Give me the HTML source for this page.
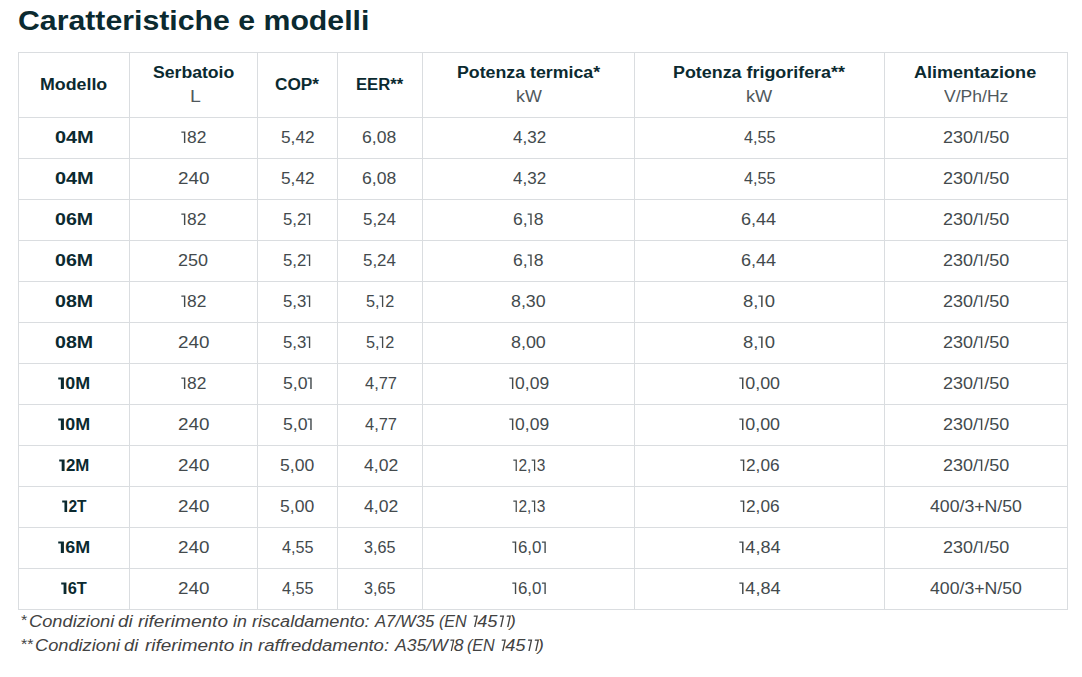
<!DOCTYPE html><html><head><meta charset="utf-8"><style>
html,body{margin:0;padding:0;background:#fff;}body{width:1082px;height:677px;position:relative;overflow:hidden;font-family:"Liberation Sans",sans-serif;}
.t{position:absolute;white-space:pre;line-height:0;height:0;transform-origin:0 0;}
.l{position:absolute;background:#dadde0;}
.d1{display:inline-block;vertical-align:baseline;overflow:visible;fill:currentColor;margin-top:-12px}
.ast{font-size:14px;}
.body{font-size:16px;}
.head{font-size:16px;font-weight:bold;}
.sub{font-size:16px;}
.title{font-size:28px;font-weight:bold;}
.foot{font-size:16px;font-style:italic;}
</style></head><body>
<div class="l" style="left:18px;top:52px;width:1px;height:558px"></div>
<div class="l" style="left:129px;top:52px;width:1px;height:558px"></div>
<div class="l" style="left:257px;top:52px;width:1px;height:558px"></div>
<div class="l" style="left:337px;top:52px;width:1px;height:558px"></div>
<div class="l" style="left:422px;top:52px;width:1px;height:558px"></div>
<div class="l" style="left:634px;top:52px;width:1px;height:558px"></div>
<div class="l" style="left:884px;top:52px;width:1px;height:558px"></div>
<div class="l" style="left:1067px;top:52px;width:1px;height:558px"></div>
<div class="l" style="left:18px;top:52px;width:1050px;height:1px"></div>
<div class="l" style="left:18px;top:117px;width:1050px;height:1px"></div>
<div class="l" style="left:18px;top:158px;width:1050px;height:1px"></div>
<div class="l" style="left:18px;top:199px;width:1050px;height:1px"></div>
<div class="l" style="left:18px;top:240px;width:1050px;height:1px"></div>
<div class="l" style="left:18px;top:281px;width:1050px;height:1px"></div>
<div class="l" style="left:18px;top:322px;width:1050px;height:1px"></div>
<div class="l" style="left:18px;top:363px;width:1050px;height:1px"></div>
<div class="l" style="left:18px;top:404px;width:1050px;height:1px"></div>
<div class="l" style="left:18px;top:445px;width:1050px;height:1px"></div>
<div class="l" style="left:18px;top:486px;width:1050px;height:1px"></div>
<div class="l" style="left:18px;top:527px;width:1050px;height:1px"></div>
<div class="l" style="left:18px;top:568px;width:1050px;height:1px"></div>
<div class="l" style="left:18px;top:609px;width:1050px;height:1px"></div>
<span class="t title" style="left:18.42px;top:21.29px;color:#0b2a30;transform:scaleX(1.0804)">Caratteristiche e modelli</span>
<span class="t head" style="left:40.39px;top:85.45px;color:#0b2a30;transform:scaleX(1.1119)">Modello</span>
<span class="t head" style="left:153.00px;top:73.25px;color:#0b2a30;transform:scaleX(1.1014)">Serbatoio</span>
<span class="t sub" style="left:189.54px;top:97.25px;color:#50585c;transform:scaleX(1.2143)">L</span>
<span class="t head" style="left:275.32px;top:85.45px;color:#0b2a30;transform:scaleX(1.0750)">COP*</span>
<span class="t head" style="left:356.26px;top:85.45px;color:#0b2a30;transform:scaleX(1.0409)">EER**</span>
<span class="t head" style="left:456.99px;top:73.25px;color:#0b2a30;transform:scaleX(1.1094)">Potenza termica*</span>
<span class="t sub" style="left:515.68px;top:97.25px;color:#50585c;transform:scaleX(1.1182)">kW</span>
<span class="t head" style="left:672.98px;top:73.25px;color:#0b2a30;transform:scaleX(1.1176)">Potenza frigorifera**</span>
<span class="t sub" style="left:746.26px;top:97.25px;color:#50585c;transform:scaleX(1.1364)">kW</span>
<span class="t head" style="left:914.37px;top:73.25px;color:#0b2a30;transform:scaleX(1.1262)">Alimentazione</span>
<span class="t sub" style="left:944.10px;top:97.25px;color:#50585c;transform:scaleX(1.0966)">V/Ph/Hz</span>
<span class="t head" style="left:54.76px;top:138.45px;color:#0b2a30;transform:scaleX(1.2414)">04M</span>
<span class="t body" style="left:181.00px;top:138.45px;color:#434a4d;transform:scaleX(1.0870)"><svg class="d1" width="5.6" height="12" viewBox="0 0 5.6 12"><path d="M0.3 0.5H4V12H2.7V1.8H0.3Z"/></svg>82</span>
<span class="t body" style="left:280.77px;top:138.45px;color:#434a4d;transform:scaleX(1.0793)">5,42</span>
<span class="t body" style="left:362.45px;top:138.45px;color:#434a4d;transform:scaleX(1.0967)">6,08</span>
<span class="t body" style="left:512.55px;top:138.45px;color:#434a4d;transform:scaleX(1.0633)">4,32</span>
<span class="t body" style="left:743.80px;top:138.45px;color:#434a4d;transform:scaleX(1.0129)">4,55</span>
<span class="t body" style="left:942.88px;top:138.45px;color:#434a4d;transform:scaleX(1.1228)">230/<svg class="d1" width="5.6" height="12" viewBox="0 0 5.6 12"><path d="M0.3 0.5H4V12H2.7V1.8H0.3Z"/></svg>/50</span>
<span class="t head" style="left:54.76px;top:179.45px;color:#0b2a30;transform:scaleX(1.2414)">04M</span>
<span class="t body" style="left:177.62px;top:179.45px;color:#434a4d;transform:scaleX(1.1760)">240</span>
<span class="t body" style="left:280.77px;top:179.45px;color:#434a4d;transform:scaleX(1.0793)">5,42</span>
<span class="t body" style="left:362.45px;top:179.45px;color:#434a4d;transform:scaleX(1.0967)">6,08</span>
<span class="t body" style="left:512.55px;top:179.45px;color:#434a4d;transform:scaleX(1.0633)">4,32</span>
<span class="t body" style="left:743.80px;top:179.45px;color:#434a4d;transform:scaleX(1.0129)">4,55</span>
<span class="t body" style="left:942.88px;top:179.45px;color:#434a4d;transform:scaleX(1.1228)">230/<svg class="d1" width="5.6" height="12" viewBox="0 0 5.6 12"><path d="M0.3 0.5H4V12H2.7V1.8H0.3Z"/></svg>/50</span>
<span class="t head" style="left:55.03px;top:220.45px;color:#0b2a30;transform:scaleX(1.2241)">06M</span>
<span class="t body" style="left:181.00px;top:220.45px;color:#434a4d;transform:scaleX(1.0870)"><svg class="d1" width="5.6" height="12" viewBox="0 0 5.6 12"><path d="M0.3 0.5H4V12H2.7V1.8H0.3Z"/></svg>82</span>
<span class="t body" style="left:283.35px;top:220.45px;color:#434a4d;transform:scaleX(1.0480)">5,2<svg class="d1" width="5.6" height="12" viewBox="0 0 5.6 12"><path d="M0.3 0.5H4V12H2.7V1.8H0.3Z"/></svg></span>
<span class="t body" style="left:363.09px;top:220.45px;color:#434a4d;transform:scaleX(1.0567)">5,24</span>
<span class="t body" style="left:513.10px;top:220.45px;color:#434a4d;transform:scaleX(1.1000)">6,<svg class="d1" width="5.6" height="12" viewBox="0 0 5.6 12"><path d="M0.3 0.5H4V12H2.7V1.8H0.3Z"/></svg>8</span>
<span class="t body" style="left:741.47px;top:220.45px;color:#434a4d;transform:scaleX(1.1267)">6,44</span>
<span class="t body" style="left:942.88px;top:220.45px;color:#434a4d;transform:scaleX(1.1228)">230/<svg class="d1" width="5.6" height="12" viewBox="0 0 5.6 12"><path d="M0.3 0.5H4V12H2.7V1.8H0.3Z"/></svg>/50</span>
<span class="t head" style="left:55.03px;top:261.45px;color:#0b2a30;transform:scaleX(1.2241)">06M</span>
<span class="t body" style="left:178.33px;top:261.45px;color:#434a4d;transform:scaleX(1.1240)">250</span>
<span class="t body" style="left:283.35px;top:261.45px;color:#434a4d;transform:scaleX(1.0480)">5,2<svg class="d1" width="5.6" height="12" viewBox="0 0 5.6 12"><path d="M0.3 0.5H4V12H2.7V1.8H0.3Z"/></svg></span>
<span class="t body" style="left:363.09px;top:261.45px;color:#434a4d;transform:scaleX(1.0567)">5,24</span>
<span class="t body" style="left:513.10px;top:261.45px;color:#434a4d;transform:scaleX(1.1000)">6,<svg class="d1" width="5.6" height="12" viewBox="0 0 5.6 12"><path d="M0.3 0.5H4V12H2.7V1.8H0.3Z"/></svg>8</span>
<span class="t body" style="left:741.47px;top:261.45px;color:#434a4d;transform:scaleX(1.1267)">6,44</span>
<span class="t body" style="left:942.88px;top:261.45px;color:#434a4d;transform:scaleX(1.1228)">230/<svg class="d1" width="5.6" height="12" viewBox="0 0 5.6 12"><path d="M0.3 0.5H4V12H2.7V1.8H0.3Z"/></svg>/50</span>
<span class="t head" style="left:55.03px;top:302.45px;color:#0b2a30;transform:scaleX(1.2241)">08M</span>
<span class="t body" style="left:181.00px;top:302.45px;color:#434a4d;transform:scaleX(1.0870)"><svg class="d1" width="5.6" height="12" viewBox="0 0 5.6 12"><path d="M0.3 0.5H4V12H2.7V1.8H0.3Z"/></svg>82</span>
<span class="t body" style="left:283.35px;top:302.45px;color:#434a4d;transform:scaleX(1.0480)">5,3<svg class="d1" width="5.6" height="12" viewBox="0 0 5.6 12"><path d="M0.3 0.5H4V12H2.7V1.8H0.3Z"/></svg></span>
<span class="t body" style="left:365.78px;top:302.45px;color:#434a4d;transform:scaleX(1.0154)">5,<svg class="d1" width="5.6" height="12" viewBox="0 0 5.6 12"><path d="M0.3 0.5H4V12H2.7V1.8H0.3Z"/></svg>2</span>
<span class="t body" style="left:510.74px;top:302.45px;color:#434a4d;transform:scaleX(1.1100)">8,30</span>
<span class="t body" style="left:743.35px;top:302.45px;color:#434a4d;transform:scaleX(1.1538)">8,<svg class="d1" width="5.6" height="12" viewBox="0 0 5.6 12"><path d="M0.3 0.5H4V12H2.7V1.8H0.3Z"/></svg>0</span>
<span class="t body" style="left:942.88px;top:302.45px;color:#434a4d;transform:scaleX(1.1228)">230/<svg class="d1" width="5.6" height="12" viewBox="0 0 5.6 12"><path d="M0.3 0.5H4V12H2.7V1.8H0.3Z"/></svg>/50</span>
<span class="t head" style="left:55.03px;top:343.45px;color:#0b2a30;transform:scaleX(1.2241)">08M</span>
<span class="t body" style="left:177.62px;top:343.45px;color:#434a4d;transform:scaleX(1.1760)">240</span>
<span class="t body" style="left:283.35px;top:343.45px;color:#434a4d;transform:scaleX(1.0480)">5,3<svg class="d1" width="5.6" height="12" viewBox="0 0 5.6 12"><path d="M0.3 0.5H4V12H2.7V1.8H0.3Z"/></svg></span>
<span class="t body" style="left:365.78px;top:343.45px;color:#434a4d;transform:scaleX(1.0154)">5,<svg class="d1" width="5.6" height="12" viewBox="0 0 5.6 12"><path d="M0.3 0.5H4V12H2.7V1.8H0.3Z"/></svg>2</span>
<span class="t body" style="left:510.63px;top:343.45px;color:#434a4d;transform:scaleX(1.1167)">8,00</span>
<span class="t body" style="left:743.35px;top:343.45px;color:#434a4d;transform:scaleX(1.1538)">8,<svg class="d1" width="5.6" height="12" viewBox="0 0 5.6 12"><path d="M0.3 0.5H4V12H2.7V1.8H0.3Z"/></svg>0</span>
<span class="t body" style="left:942.88px;top:343.45px;color:#434a4d;transform:scaleX(1.1228)">230/<svg class="d1" width="5.6" height="12" viewBox="0 0 5.6 12"><path d="M0.3 0.5H4V12H2.7V1.8H0.3Z"/></svg>/50</span>
<span class="t head" style="left:58.35px;top:384.45px;color:#0b2a30;transform:scaleX(1.1179)"><svg class="d1" width="6.6" height="12" viewBox="0 0 6.6 12"><path d="M0.2 0.4H5.3V12H2.55V2.6H0.2Z"/></svg>0M</span>
<span class="t body" style="left:181.00px;top:384.45px;color:#434a4d;transform:scaleX(1.0870)"><svg class="d1" width="5.6" height="12" viewBox="0 0 5.6 12"><path d="M0.3 0.5H4V12H2.7V1.8H0.3Z"/></svg>82</span>
<span class="t body" style="left:282.60px;top:384.45px;color:#434a4d;transform:scaleX(1.1040)">5,0<svg class="d1" width="5.6" height="12" viewBox="0 0 5.6 12"><path d="M0.3 0.5H4V12H2.7V1.8H0.3Z"/></svg></span>
<span class="t body" style="left:364.60px;top:384.45px;color:#434a4d;transform:scaleX(1.0267)">4,77</span>
<span class="t body" style="left:508.85px;top:384.45px;color:#434a4d;transform:scaleX(1.0917)"><svg class="d1" width="5.6" height="12" viewBox="0 0 5.6 12"><path d="M0.3 0.5H4V12H2.7V1.8H0.3Z"/></svg>0,09</span>
<span class="t body" style="left:739.40px;top:384.45px;color:#434a4d;transform:scaleX(1.1167)"><svg class="d1" width="5.6" height="12" viewBox="0 0 5.6 12"><path d="M0.3 0.5H4V12H2.7V1.8H0.3Z"/></svg>0,00</span>
<span class="t body" style="left:942.88px;top:384.45px;color:#434a4d;transform:scaleX(1.1228)">230/<svg class="d1" width="5.6" height="12" viewBox="0 0 5.6 12"><path d="M0.3 0.5H4V12H2.7V1.8H0.3Z"/></svg>/50</span>
<span class="t head" style="left:58.35px;top:425.45px;color:#0b2a30;transform:scaleX(1.1179)"><svg class="d1" width="6.6" height="12" viewBox="0 0 6.6 12"><path d="M0.2 0.4H5.3V12H2.55V2.6H0.2Z"/></svg>0M</span>
<span class="t body" style="left:177.62px;top:425.45px;color:#434a4d;transform:scaleX(1.1760)">240</span>
<span class="t body" style="left:282.60px;top:425.45px;color:#434a4d;transform:scaleX(1.1040)">5,0<svg class="d1" width="5.6" height="12" viewBox="0 0 5.6 12"><path d="M0.3 0.5H4V12H2.7V1.8H0.3Z"/></svg></span>
<span class="t body" style="left:364.60px;top:425.45px;color:#434a4d;transform:scaleX(1.0267)">4,77</span>
<span class="t body" style="left:508.85px;top:425.45px;color:#434a4d;transform:scaleX(1.0917)"><svg class="d1" width="5.6" height="12" viewBox="0 0 5.6 12"><path d="M0.3 0.5H4V12H2.7V1.8H0.3Z"/></svg>0,09</span>
<span class="t body" style="left:739.40px;top:425.45px;color:#434a4d;transform:scaleX(1.1167)"><svg class="d1" width="5.6" height="12" viewBox="0 0 5.6 12"><path d="M0.3 0.5H4V12H2.7V1.8H0.3Z"/></svg>0,00</span>
<span class="t body" style="left:942.88px;top:425.45px;color:#434a4d;transform:scaleX(1.1228)">230/<svg class="d1" width="5.6" height="12" viewBox="0 0 5.6 12"><path d="M0.3 0.5H4V12H2.7V1.8H0.3Z"/></svg>/50</span>
<span class="t head" style="left:59.25px;top:466.45px;color:#0b2a30;transform:scaleX(1.0536)"><svg class="d1" width="6.6" height="12" viewBox="0 0 6.6 12"><path d="M0.2 0.4H5.3V12H2.55V2.6H0.2Z"/></svg>2M</span>
<span class="t body" style="left:177.62px;top:466.45px;color:#434a4d;transform:scaleX(1.1760)">240</span>
<span class="t body" style="left:279.95px;top:466.45px;color:#434a4d;transform:scaleX(1.0967)">5,00</span>
<span class="t body" style="left:363.55px;top:466.45px;color:#434a4d;transform:scaleX(1.0967)">4,02</span>
<span class="t body" style="left:512.55px;top:466.45px;color:#434a4d;transform:scaleX(0.9667)"><svg class="d1" width="5.6" height="12" viewBox="0 0 5.6 12"><path d="M0.3 0.5H4V12H2.7V1.8H0.3Z"/></svg>2,<svg class="d1" width="5.6" height="12" viewBox="0 0 5.6 12"><path d="M0.3 0.5H4V12H2.7V1.8H0.3Z"/></svg>3</span>
<span class="t body" style="left:740.10px;top:466.45px;color:#434a4d;transform:scaleX(1.0778)"><svg class="d1" width="5.6" height="12" viewBox="0 0 5.6 12"><path d="M0.3 0.5H4V12H2.7V1.8H0.3Z"/></svg>2,06</span>
<span class="t body" style="left:942.88px;top:466.45px;color:#434a4d;transform:scaleX(1.1228)">230/<svg class="d1" width="5.6" height="12" viewBox="0 0 5.6 12"><path d="M0.3 0.5H4V12H2.7V1.8H0.3Z"/></svg>/50</span>
<span class="t head" style="left:61.90px;top:507.45px;color:#0b2a30;transform:scaleX(0.9680)"><svg class="d1" width="6.6" height="12" viewBox="0 0 6.6 12"><path d="M0.2 0.4H5.3V12H2.55V2.6H0.2Z"/></svg>2T</span>
<span class="t body" style="left:177.62px;top:507.45px;color:#434a4d;transform:scaleX(1.1760)">240</span>
<span class="t body" style="left:279.95px;top:507.45px;color:#434a4d;transform:scaleX(1.0967)">5,00</span>
<span class="t body" style="left:363.55px;top:507.45px;color:#434a4d;transform:scaleX(1.0967)">4,02</span>
<span class="t body" style="left:512.55px;top:507.45px;color:#434a4d;transform:scaleX(0.9667)"><svg class="d1" width="5.6" height="12" viewBox="0 0 5.6 12"><path d="M0.3 0.5H4V12H2.7V1.8H0.3Z"/></svg>2,<svg class="d1" width="5.6" height="12" viewBox="0 0 5.6 12"><path d="M0.3 0.5H4V12H2.7V1.8H0.3Z"/></svg>3</span>
<span class="t body" style="left:740.10px;top:507.45px;color:#434a4d;transform:scaleX(1.0778)"><svg class="d1" width="5.6" height="12" viewBox="0 0 5.6 12"><path d="M0.3 0.5H4V12H2.7V1.8H0.3Z"/></svg>2,06</span>
<span class="t body" style="left:930.15px;top:507.45px;color:#434a4d;transform:scaleX(1.1048)">400/3+N/50</span>
<span class="t head" style="left:58.35px;top:548.45px;color:#0b2a30;transform:scaleX(1.1179)"><svg class="d1" width="6.6" height="12" viewBox="0 0 6.6 12"><path d="M0.2 0.4H5.3V12H2.55V2.6H0.2Z"/></svg>6M</span>
<span class="t body" style="left:177.62px;top:548.45px;color:#434a4d;transform:scaleX(1.1760)">240</span>
<span class="t body" style="left:281.80px;top:548.45px;color:#434a4d;transform:scaleX(1.0129)">4,55</span>
<span class="t body" style="left:363.84px;top:548.45px;color:#434a4d;transform:scaleX(1.0100)">3,65</span>
<span class="t body" style="left:511.60px;top:548.45px;color:#434a4d;transform:scaleX(1.0562)"><svg class="d1" width="5.6" height="12" viewBox="0 0 5.6 12"><path d="M0.3 0.5H4V12H2.7V1.8H0.3Z"/></svg>6,0<svg class="d1" width="5.6" height="12" viewBox="0 0 5.6 12"><path d="M0.3 0.5H4V12H2.7V1.8H0.3Z"/></svg></span>
<span class="t body" style="left:739.15px;top:548.45px;color:#434a4d;transform:scaleX(1.1306)"><svg class="d1" width="5.6" height="12" viewBox="0 0 5.6 12"><path d="M0.3 0.5H4V12H2.7V1.8H0.3Z"/></svg>4,84</span>
<span class="t body" style="left:942.88px;top:548.45px;color:#434a4d;transform:scaleX(1.1228)">230/<svg class="d1" width="5.6" height="12" viewBox="0 0 5.6 12"><path d="M0.3 0.5H4V12H2.7V1.8H0.3Z"/></svg>/50</span>
<span class="t head" style="left:61.20px;top:589.45px;color:#0b2a30;transform:scaleX(1.0240)"><svg class="d1" width="6.6" height="12" viewBox="0 0 6.6 12"><path d="M0.2 0.4H5.3V12H2.55V2.6H0.2Z"/></svg>6T</span>
<span class="t body" style="left:177.62px;top:589.45px;color:#434a4d;transform:scaleX(1.1760)">240</span>
<span class="t body" style="left:281.80px;top:589.45px;color:#434a4d;transform:scaleX(1.0129)">4,55</span>
<span class="t body" style="left:363.84px;top:589.45px;color:#434a4d;transform:scaleX(1.0100)">3,65</span>
<span class="t body" style="left:511.60px;top:589.45px;color:#434a4d;transform:scaleX(1.0562)"><svg class="d1" width="5.6" height="12" viewBox="0 0 5.6 12"><path d="M0.3 0.5H4V12H2.7V1.8H0.3Z"/></svg>6,0<svg class="d1" width="5.6" height="12" viewBox="0 0 5.6 12"><path d="M0.3 0.5H4V12H2.7V1.8H0.3Z"/></svg></span>
<span class="t body" style="left:739.15px;top:589.45px;color:#434a4d;transform:scaleX(1.1306)"><svg class="d1" width="5.6" height="12" viewBox="0 0 5.6 12"><path d="M0.3 0.5H4V12H2.7V1.8H0.3Z"/></svg>4,84</span>
<span class="t body" style="left:930.15px;top:589.45px;color:#434a4d;transform:scaleX(1.1048)">400/3+N/50</span>
<span class="t foot" style="left:29.16px;top:622.25px;color:#424242;transform:scaleX(1.1419)">Condizioni</span>
<span class="t foot" style="left:117.83px;top:622.25px;color:#424242;transform:scaleX(1.1750)">di</span>
<span class="t foot" style="left:138.30px;top:622.25px;color:#424242;transform:scaleX(1.1907)">riferimento</span>
<span class="t foot" style="left:232.60px;top:622.25px;color:#424242;transform:scaleX(1.1083)">in</span>
<span class="t foot" style="left:251.90px;top:622.25px;color:#424242;transform:scaleX(1.1301)">riscaldamento:</span>
<span class="t foot" style="left:375.44px;top:622.25px;color:#424242;transform:scaleX(1.0414)">A7/W35</span>
<span class="t foot" style="left:438.79px;top:622.25px;color:#424242;transform:scaleX(1.0074)">(EN</span>
<span class="t foot" style="left:470.72px;top:622.25px;color:#424242;transform:scaleX(1.1389)"><svg class="d1" width="5.4" height="12" viewBox="0 0 5.4 12"><g transform="translate(0,12) skewX(-11) translate(0,-12)"><path d="M0.3 0.6H3.9V12H2.7V1.8H0.3Z"/></g></svg>45<svg class="d1" width="5.4" height="12" viewBox="0 0 5.4 12"><g transform="translate(0,12) skewX(-11) translate(0,-12)"><path d="M0.3 0.6H3.9V12H2.7V1.8H0.3Z"/></g></svg><svg class="d1" width="5.4" height="12" viewBox="0 0 5.4 12"><g transform="translate(0,12) skewX(-11) translate(0,-12)"><path d="M0.3 0.6H3.9V12H2.7V1.8H0.3Z"/></g></svg>)</span>
<span class="t foot" style="left:35.46px;top:646.15px;color:#424242;transform:scaleX(1.1392)">Condizioni</span>
<span class="t foot" style="left:124.25px;top:646.15px;color:#424242;transform:scaleX(1.1500)">di</span>
<span class="t foot" style="left:145.00px;top:646.15px;color:#424242;transform:scaleX(1.1827)">riferimento</span>
<span class="t foot" style="left:238.70px;top:646.15px;color:#424242;transform:scaleX(1.1083)">in</span>
<span class="t foot" style="left:258.30px;top:646.15px;color:#424242;transform:scaleX(1.1607)">raffreddamento:</span>
<span class="t foot" style="left:394.90px;top:646.15px;color:#424242;transform:scaleX(1.0984)">A35/W<svg class="d1" width="5.4" height="12" viewBox="0 0 5.4 12"><g transform="translate(0,12) skewX(-11) translate(0,-12)"><path d="M0.3 0.6H3.9V12H2.7V1.8H0.3Z"/></g></svg>8</span>
<span class="t foot" style="left:467.29px;top:646.15px;color:#424242;transform:scaleX(1.0074)">(EN</span>
<span class="t foot" style="left:499.22px;top:646.15px;color:#424242;transform:scaleX(1.1417)"><svg class="d1" width="5.4" height="12" viewBox="0 0 5.4 12"><g transform="translate(0,12) skewX(-11) translate(0,-12)"><path d="M0.3 0.6H3.9V12H2.7V1.8H0.3Z"/></g></svg>45<svg class="d1" width="5.4" height="12" viewBox="0 0 5.4 12"><g transform="translate(0,12) skewX(-11) translate(0,-12)"><path d="M0.3 0.6H3.9V12H2.7V1.8H0.3Z"/></g></svg><svg class="d1" width="5.4" height="12" viewBox="0 0 5.4 12"><g transform="translate(0,12) skewX(-11) translate(0,-12)"><path d="M0.3 0.6H3.9V12H2.7V1.8H0.3Z"/></g></svg>)</span>
<span class="t ast" style="left:20.65px;top:619.65px;color:#424242;transform:scaleX(1.1500)">*</span>
<span class="t ast" style="left:21.15px;top:643.75px;color:#424242;transform:scaleX(1.1500)">**</span>
</body></html>
